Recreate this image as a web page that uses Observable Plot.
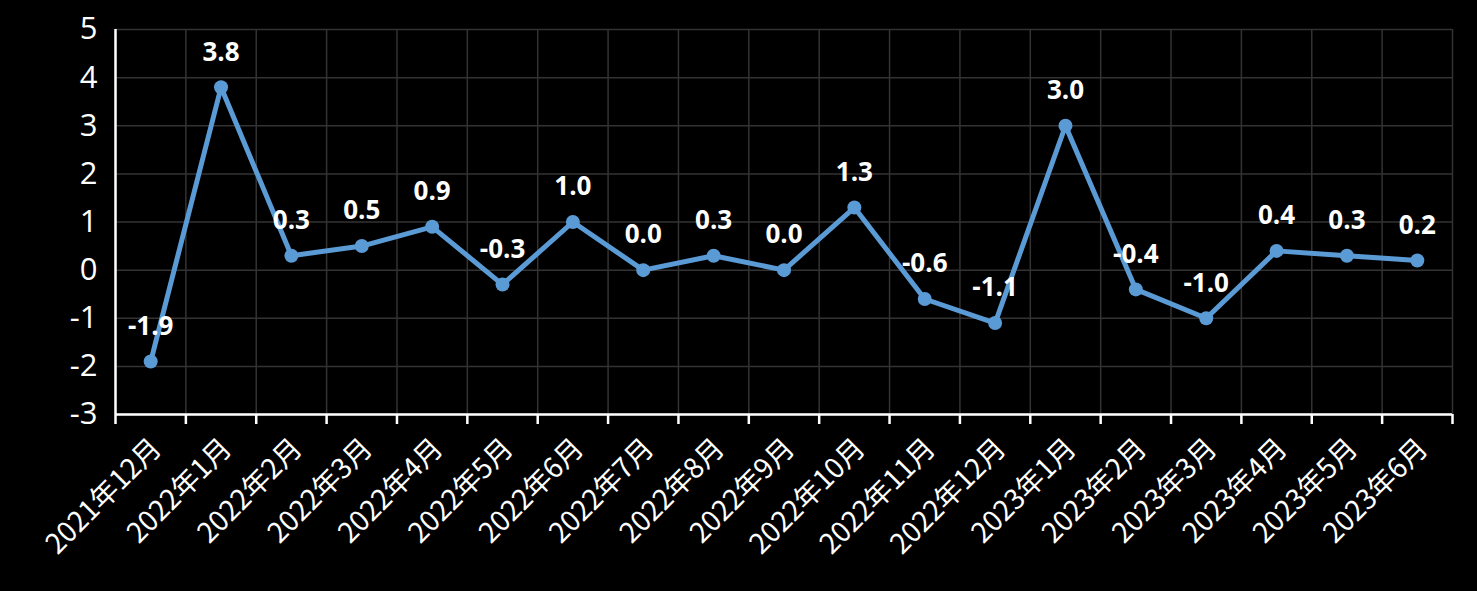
<!DOCTYPE html>
<html>
<head>
<meta charset="utf-8">
<script src="https://cdn.jsdelivr.net/npm/d3@7"></script>
<script src="https://cdn.jsdelivr.net/npm/@observablehq/plot@0.6"></script>
<style>
  html, body { margin: 0; padding: 0; background: #000; }
  #chart svg { display: block; background: #000; }
</style>
</head>
<body>
<div id="chart"></div>
<script>
const months = ["2021年12月","2022年1月","2022年2月","2022年3月","2022年4月","2022年5月","2022年6月","2022年7月","2022年8月","2022年9月","2022年10月","2022年11月","2022年12月","2023年1月","2023年2月","2023年3月","2023年4月","2023年5月","2023年6月"];
const values = [-1.9, 3.8, 0.3, 0.5, 0.9, -0.3, 1.0, 0.0, 0.3, 0.0, 1.3, -0.6, -1.1, 3.0, -0.4, -1.0, 0.4, 0.3, 0.2];
const yTicks = [-3, -2, -1, 0, 1, 2, 3, 4, 5];

const data = months.map((m, i) => ({i, m, v: values[i]}));
const idx = months.map((_, i) => i);
const bounds = d3.range(-0.5, months.length, 1);

const chart = Plot.plot({
  width: 1477,
  height: 591,
  marginLeft: 115,
  marginRight: 25,
  marginTop: 29,
  marginBottom: 177,
  style: {background: "#000", color: "#fff", fontFamily: "'Noto Sans CJK SC', 'Open Sans', sans-serif"},
  x: {type: "linear", domain: [-0.5, months.length - 0.5]},
  y: {domain: [-3, 5]},
  marks: [
    Plot.ruleY(yTicks, {stroke: "#333", strokeWidth: 1.5}),
    Plot.ruleX(bounds, {stroke: "#333", strokeWidth: 1.5}),
    Plot.axisY({ticks: yTicks, tickSize: 0, tickPadding: 18, fontSize: 31, fontFamily: "'Open Sans', sans-serif", fill: "#fff", label: null, tickFormat: d => String(d)}),
    Plot.axisX({ticks: bounds, tickSize: 10, tickFormat: () => "", stroke: "#fff", strokeWidth: 2.5, label: null}),
    Plot.axisX({ticks: idx, tickSize: 0, tickFormat: i => months[i], tickRotate: -45, tickPadding: 32, fontSize: 28, dx: 6, dy: -3, fill: "#fff", label: null}),
    Plot.ruleY([-3], {stroke: "#fff", strokeWidth: 2.5}),
    Plot.ruleX([-0.5], {stroke: "#fff", strokeWidth: 2.5}),
    Plot.line(data, {x: "i", y: "v", stroke: "#5b9bd5", strokeWidth: 5}),
    Plot.dot(data, {x: "i", y: "v", r: 7, fill: "#5b9bd5", stroke: "none"}),
    Plot.text(data, {x: "i", y: "v", text: d => d.v.toFixed(1), dy: -35, fontSize: 26, fontWeight: "bold", fill: "#fff", fontFamily: "'Open Sans', sans-serif"})
  ]
});
document.getElementById("chart").append(chart);
</script>
</body>
</html>
